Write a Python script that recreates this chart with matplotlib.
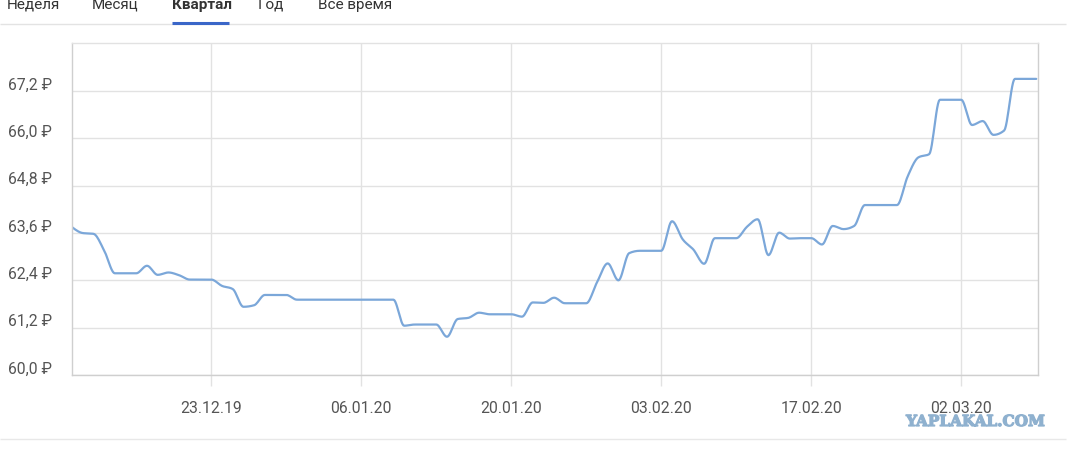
import numpy as np
import matplotlib
matplotlib.use('Agg')
import matplotlib.pyplot as plt
import matplotlib.dates as mdates
import matplotlib.transforms as mtransforms
import matplotlib.patheffects as pe
import pandas as pd

plt.rcParams['font.family'] = ['Roboto', 'DejaVu Sans']

# ---- data -------------------------------------------------------------
start_date = '2019-12-10'
end_date = '2020-03-09'
rates = [
    63.75, 63.60, 63.58, 63.16, 62.58, 62.58, 62.58, 62.77, 62.54, 62.60,
    62.53, 62.42, 62.42, 62.42, 62.26, 62.18, 61.73, 61.77, 62.03, 62.03,
    62.03, 61.91, 61.91, 61.91, 61.91, 61.91, 61.91, 61.91, 61.91, 61.91,
    61.91, 61.25, 61.28, 61.28, 61.28, 60.97, 61.42, 61.45, 61.58, 61.54,
    61.54, 61.54, 61.48, 61.84, 61.83, 61.96, 61.82, 61.82, 61.82, 62.35,
    62.83, 62.40, 63.09, 63.15, 63.15, 63.15, 63.90, 63.44, 63.18, 62.82,
    63.47, 63.47, 63.47, 63.76, 63.95, 63.04, 63.61, 63.46, 63.47, 63.47,
    63.31, 63.78, 63.70, 63.78, 64.31, 64.31, 64.31, 64.31, 65.04, 65.52,
    65.60, 66.98, 66.98, 66.98, 66.34, 66.44, 66.09, 66.20, 67.51, 67.51,
    67.51,
]
y_ticks = [60.0, 61.2, 62.4, 63.6, 64.8, 66.0, 67.2]
y_tick_labels = ['60,0 ₽', '61,2 ₽', '62,4 ₽', '63,6 ₽', '64,8 ₽', '66,0 ₽', '67,2 ₽']
x_tick_dates = ['2019-12-23', '2020-01-06', '2020-01-20', '2020-02-03', '2020-02-17', '2020-03-02']
x_tick_labels = ['23.12.19', '06.01.20', '20.01.20', '03.02.20', '17.02.20', '02.03.20']
tabs = ['Неделя', 'Месяц', 'Квартал', 'Год', 'Все время']
active_tab = 'Квартал'

# ---- helpers ----------------------------------------------------------
def monotone_curve(x, y, n=12):
    """Monotone cubic (d3 curveMonotoneX-like) path through the points."""
    x = np.asarray(x, float)
    y = np.asarray(y, float)
    h = np.diff(x)
    s = np.diff(y) / h
    t = np.zeros_like(y)
    for i in range(1, len(y) - 1):
        s0, s1 = s[i - 1], s[i]
        p = (s0 * h[i] + s1 * h[i - 1]) / (h[i - 1] + h[i])
        t[i] = (np.sign(s0) + np.sign(s1)) * min(abs(s0), abs(s1), 0.5 * abs(p))
    t[0] = (3 * s[0] - t[1]) / 2 if len(y) > 2 else s[0]
    t[-1] = (3 * s[-1] - t[-2]) / 2 if len(y) > 2 else s[-1]
    xs, ys = [], []
    for i in range(len(h)):
        u = np.linspace(0, 1, n, endpoint=False)
        h00 = 2 * u**3 - 3 * u**2 + 1
        h10 = u**3 - 2 * u**2 + u
        h01 = -2 * u**3 + 3 * u**2
        h11 = u**3 - u**2
        xs.append(x[i] + u * h[i])
        ys.append(h00 * y[i] + h10 * h[i] * t[i] + h01 * y[i + 1] + h11 * h[i] * t[i + 1])
    xs.append([x[-1]])
    ys.append([y[-1]])
    return np.concatenate(xs), np.concatenate(ys)

# ---- figure -----------------------------------------------------------
W, H = 1070, 451
fig = plt.figure(figsize=(W / 100, H / 100), dpi=100)
fig.patch.set_facecolor('white')

# overlay in pixel coordinates for the page chrome
ov = fig.add_axes([0, 0, 1, 1], zorder=0)
ov.set_xlim(0, W)
ov.set_ylim(H, 0)
ov.axis('off')

tab_x = [7, 92, 172, 258, 318]
for name, tx in zip(tabs, tab_x):
    ov.text(tx, 8.5, name, fontsize=11, color='#333333', va='baseline', ha='left',
            fontweight='bold' if name == active_tab else 'normal')
ov.plot([0, 1066], [23.5, 23.5], color='#e3e3e3', lw=1, solid_capstyle='butt')
ov.plot([172, 229], [23, 23], color='#3a66c8', lw=2.2, solid_capstyle='butt')
ov.plot([0, 1066], [439, 439], color='#e8e8e8', lw=1, solid_capstyle='butt')
ov.text(975.5, 422, 'YAPLAKAL.COM', fontsize=11, color='#8fb1cf', ha='center', va='center',
        family='DejaVu Serif', fontweight='bold',
        path_effects=[pe.withStroke(linewidth=0.9, foreground='#8fb1cf')])

# main chart
left, right, top, bottom = 72, 1038, 43, 375
ax = fig.add_axes([left / W, 1 - bottom / H, (right - left) / W, (bottom - top) / H], zorder=1)
ax.set_facecolor('white')

dates = pd.date_range(start_date, periods=len(rates), freq='D')
xnum = mdates.date2num(dates.to_pydatetime())
cx, cy = monotone_curve(xnum, rates)
ax.plot(cx, cy, color='#7ba7d9', lw=1.6, solid_joinstyle='round', solid_capstyle='round')

ax.set_xlim(mdates.date2num(pd.Timestamp(start_date)), mdates.date2num(pd.Timestamp(end_date)) + 0.16)
ax.set_ylim(60.0, 68.42)

ax.set_yticks(y_ticks)
ax.set_yticklabels(y_tick_labels)
ax.set_xticks(mdates.date2num(pd.to_datetime(x_tick_dates).to_pydatetime()))
ax.set_xticklabels(x_tick_labels)

ax.grid(True, color='#e2e2e2', lw=1)
ax.set_axisbelow(True)
ax.tick_params(axis='y', length=0, pad=14.5, labelsize=11.3, labelcolor='#555555')
ax.tick_params(axis='x', length=8, width=1, color='#e2e2e2', pad=10.5, labelsize=11.3, labelcolor='#555555')

for sp in ['left', 'bottom', 'right']:
    ax.spines[sp].set_color('#cfcfcf')
    ax.spines[sp].set_linewidth(1)
ax.spines['top'].set_color('#e2e2e2')
ax.spines['top'].set_linewidth(1)

# y labels sit a little above their grid lines
off = mtransforms.ScaledTranslation(0, 7.5 / 100, fig.dpi_scale_trans)
for lab in ax.get_yticklabels():
    lab.set_transform(lab.get_transform() + off)

fig.savefig('out.png', dpi=100, facecolor='white')
